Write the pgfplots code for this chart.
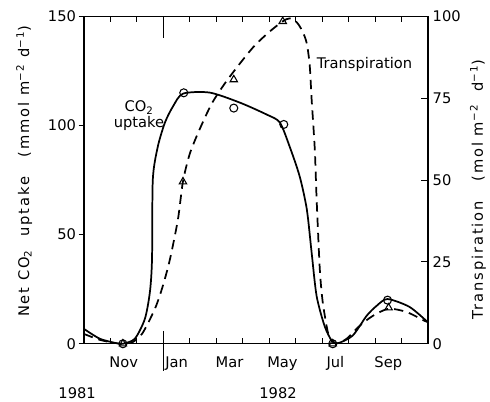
\documentclass[border=0pt]{standalone}
\usepackage{fontspec}
\setmainfont{DejaVu Sans}
\usepackage{pgfplots}
\pgfplotsset{compat=1.18}
\newcommand\fs{\fontsize{11}{13}\selectfont}
\newcommand\ls{\fontsize{11}{13}\selectfont\addfontfeatures{LetterSpace=13}}

\begin{document}
\begin{tikzpicture}
\begin{axis}[
  scale only axis, width=258pt, height=245.5pt,
  xmin=0, xmax=13, ymin=0, ymax=150,
  clip=false,
  axis line style={line width=0.9pt},
  /pgf/number format/assume math mode=true,
  tick label style={font=\fs},
  label style={font=\ls},
  xtick={1,2,4,5,6,7,8,9,10,11,12},
  xticklabels={},
  xtick pos=both,
  tick align=inside,
  major tick length=4pt,
  extra x ticks={1.5,3.5,5.5,7.5,9.5,11.5},
  extra x tick labels={Nov,Jan,Mar,May,Jul,Sep},
  extra x tick style={major tick length=0pt, xticklabel style={yshift=-6pt}},
  ytick={0,50,100,150},
  ytick pos=left,
  yticklabel style={xshift=-2.5pt},
  tick style={line width=0.8pt, draw=black},
  ytick style={xshift=-4pt},
  ylabel={Net CO\textsubscript{2}\ \ uptake\ \ \ (mmol m\textsuperscript{−2} d\textsuperscript{−1})},
  ylabel style={at={(rel axis cs:-0.174,0.527)}, anchor=center},
]
\addplot[line width=1.3pt, smooth, tension=0.45] coordinates {
(0,6.8) (0.6,2.3) (1.25,0.2) (1.47,0) (1.92,2.3) (2.30,11.4) (2.49,23.7)
(2.57,38.8) (2.60,75.3) (2.79,90.4) (3.06,101.4) (3.36,108.7) (3.74,114.6)
(4.75,115.1) (5.89,110.5) (6.91,105) (7.40,101.4) (7.77,90.4) (8.15,76.7)
(8.42,61.6) (8.60,42) (8.79,21.9) (9.09,8.2) (9.36,1.4) (9.58,0.2)
(10.15,3.7) (10.68,12.8) (11.06,17.4) (11.47,20.5) (12.30,16.9) (12.98,10)
};
\addplot[only marks, mark=o, mark size=3pt, mark options={fill=white, line width=0.8pt}] coordinates {
(1.47,0) (3.77,115) (5.66,108) (7.55,100.5) (9.4,0) (11.47,20)
};
\node[font=\fs, align=center, inner sep=0pt] at (axis cs:2.08,104.6) {CO\textsubscript{2}\\[-1pt]uptake};
\node[font=\fs, anchor=west, inner sep=0pt] at (axis cs:8.79,127.9) {Transpiration};
\coordinate (j0) at (axis cs:3,0);
\coordinate (j1) at (axis cs:3,150);
\coordinate (y81) at (rel axis cs:-0.02,-0.152);
\coordinate (y82) at (rel axis cs:0.564,-0.152);
\end{axis}
\begin{axis}[
  scale only axis, width=258pt, height=245.5pt,
  xmin=0, xmax=13, ymin=0, ymax=100,
  axis x line=none, axis y line*=right,
  axis line style={line width=0.9pt},
  /pgf/number format/assume math mode=true,
  tick label style={font=\fs},
  label style={font=\ls},
  ytick={0,25,50,75,100},
  tick align=inside,
  major tick length=5pt,
  tick style={line width=0.8pt, draw=black},
  ylabel={Transpiration\ \ \ (mol m\textsuperscript{−2}\ \ d\textsuperscript{−1})},
  ylabel style={at={(rel axis cs:1.145,0.472)}, anchor=center},
]
\addplot[line width=1.3pt, dash pattern=on 7pt off 4.5pt, smooth, tension=0.45] coordinates {
(0,3.0) (0.6,1.2) (1.25,0.1) (1.74,0.1) (2.19,3.0) (2.68,10.7) (2.98,17.7)
(3.25,25.9) (3.55,38) (3.74,49.6) (4.0,58.1) (4.38,65.7) (4.83,73.4)
(5.32,79.5) (5.89,85.6) (6.45,91.1) (7.02,95.4) (7.51,98.5) (7.77,99.4)
(8.04,98.2) (8.26,95.4) (8.42,91.7) (8.53,85) (8.60,74.9) (8.72,59.6)
(8.79,44.3) (8.91,22.9) (9.02,12.8) (9.21,3.7) (9.36,0.9) (9.55,0.1)
(9.92,1.5) (10.42,5.5) (10.91,8.5) (11.51,10.7) (12.19,9.7) (12.87,7.0) (12.98,6.7)
};
\addplot[only marks, mark=triangle, mark size=3.2pt, mark options={fill=white, line width=0.8pt}] coordinates {
(1.47,0) (3.74,49.5) (5.66,80.7) (7.51,98.5) (9.4,0) (11.51,11)
};
\coordinate (bl) at (rel axis cs:-0.2442,-0.1766);
\coordinate (tr) at (rel axis cs:1.1802,1.0502);
\end{axis}
\draw[line width=0.9pt] (j0) ++(0,9.75pt) -- ++(0,-30pt);
\draw[line width=0.9pt] (j1) -- ++(0,-16pt);
\node[font=\fs] at (y81) {1981};
\node[font=\fs] at (y82) {1982};
\pgfresetboundingbox
\useasboundingbox (bl) rectangle (tr);
\end{tikzpicture}
\end{document}
